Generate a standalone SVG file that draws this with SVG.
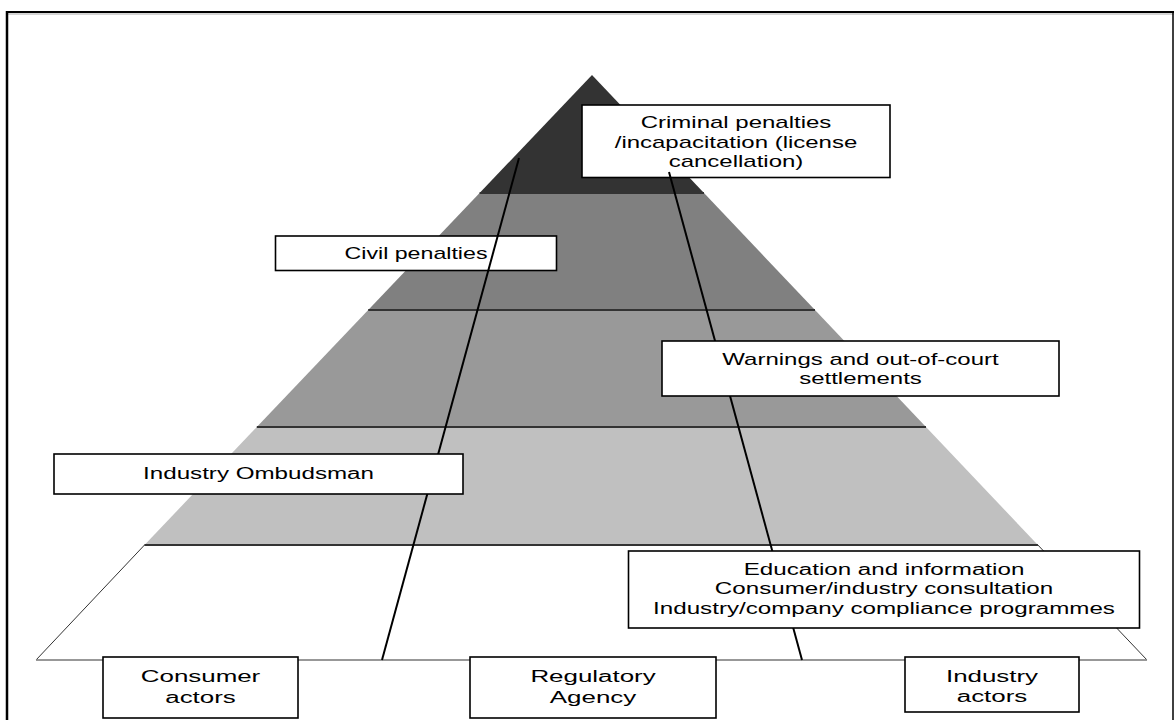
<svg xmlns="http://www.w3.org/2000/svg" width="1174" height="720" viewBox="0 0 1174 720">
<style>
.box{fill:#fff;stroke:#000;stroke-width:1.6}
.t{font-family:"Liberation Sans",Arial,sans-serif;font-size:16px;fill:#000;text-anchor:middle}
.band{stroke:none}
.sep{stroke:#333;stroke-width:2}
.conn{stroke:#000;stroke-width:2;fill:none}
</style>
<rect width="1174" height="720" fill="#fff"/>
<g id="frame">
<line x1="7" y1="12" x2="1174" y2="12" stroke="#000" stroke-width="2"/>
<line x1="7" y1="14" x2="1174" y2="14" stroke="#aaa" stroke-width="1"/>
<line x1="7" y1="11" x2="7" y2="720" stroke="#000" stroke-width="2.5"/>
<line x1="1173" y1="11" x2="1173" y2="720" stroke="#000" stroke-width="1.5"/>
</g>
<g id="pyramid">
<polygon class="band" fill="#333" points="592,75 704,193 479.6,193"/>
<polygon class="band" fill="#808080" points="479.6,193 704,193 815,310 368.2,310"/>
<polygon class="band" fill="#999" points="368.2,310 815,310 926,427 256.8,427"/>
<polygon class="band" fill="#c0c0c0" points="256.8,427 926,427 1037.9,545 144.5,545"/>
<polygon fill="#fff" stroke="#333" stroke-width="1" points="144.5,545 1037.9,545 1147,660 36,660"/>
<line x1="36" y1="660" x2="1147" y2="660" stroke="#999" stroke-width="1.5"/>
<line class="sep" x1="479.6" y1="193" x2="704" y2="193"/>
<line class="sep" x1="368.2" y1="310" x2="815" y2="310"/>
<line class="sep" x1="256.8" y1="427" x2="926" y2="427"/>
<line class="sep" x1="144.5" y1="545" x2="1037.9" y2="545"/>
</g>
<g id="criminal">
<rect class="box" x="582" y="105" width="308" height="72.5"/>
<text class="t" transform="translate(736,128) scale(1.5,1)">Criminal penalties</text>
<text class="t" transform="translate(736,147.5) scale(1.5,1)">/incapacitation (license</text>
<text class="t" transform="translate(736,167) scale(1.5,1)">cancellation)</text>
</g>
<g id="civil">
<rect class="box" x="275.5" y="236" width="281" height="34.5"/>
<text class="t" transform="translate(416,259) scale(1.45,1)">Civil penalties</text>
</g>
<g id="connectors">
<line class="conn" x1="519" y1="158" x2="382" y2="660"/>
<line class="conn" x1="669" y1="172" x2="802" y2="660"/>
</g>
<g id="warnings">
<rect class="box" x="662" y="341" width="397" height="55"/>
<text class="t" transform="translate(860.5,364.5) scale(1.5,1)">Warnings and out-of-court</text>
<text class="t" transform="translate(860.5,384) scale(1.5,1)">settlements</text>
</g>
<g id="ombudsman">
<rect class="box" x="54" y="454" width="409" height="40"/>
<text class="t" transform="translate(258.5,479) scale(1.51,1)">Industry Ombudsman</text>
</g>
<g id="education">
<rect class="box" x="628.5" y="551" width="511" height="77"/>
<text class="t" transform="translate(884,574.5) scale(1.51,1)">Education and information</text>
<text class="t" transform="translate(884,594) scale(1.51,1)">Consumer/industry consultation</text>
<text class="t" transform="translate(884,613.5) scale(1.51,1)">Industry/company compliance programmes</text>
</g>
<g id="consumer">
<rect class="box" x="103" y="657" width="195" height="61"/>
<text class="t" transform="translate(200.5,682) scale(1.62,1)">Consumer</text>
<text class="t" transform="translate(200.5,703) scale(1.62,1)">actors</text>
</g>
<g id="regulatory">
<rect class="box" x="470" y="657" width="246" height="61"/>
<text class="t" transform="translate(593,682) scale(1.62,1)">Regulatory</text>
<text class="t" transform="translate(593,703) scale(1.62,1)">Agency</text>
</g>
<g id="industry">
<rect class="box" x="905" y="657" width="174" height="55"/>
<text class="t" transform="translate(992,682) scale(1.62,1)">Industry</text>
<text class="t" transform="translate(992,702) scale(1.62,1)">actors</text>
</g>
</svg>
